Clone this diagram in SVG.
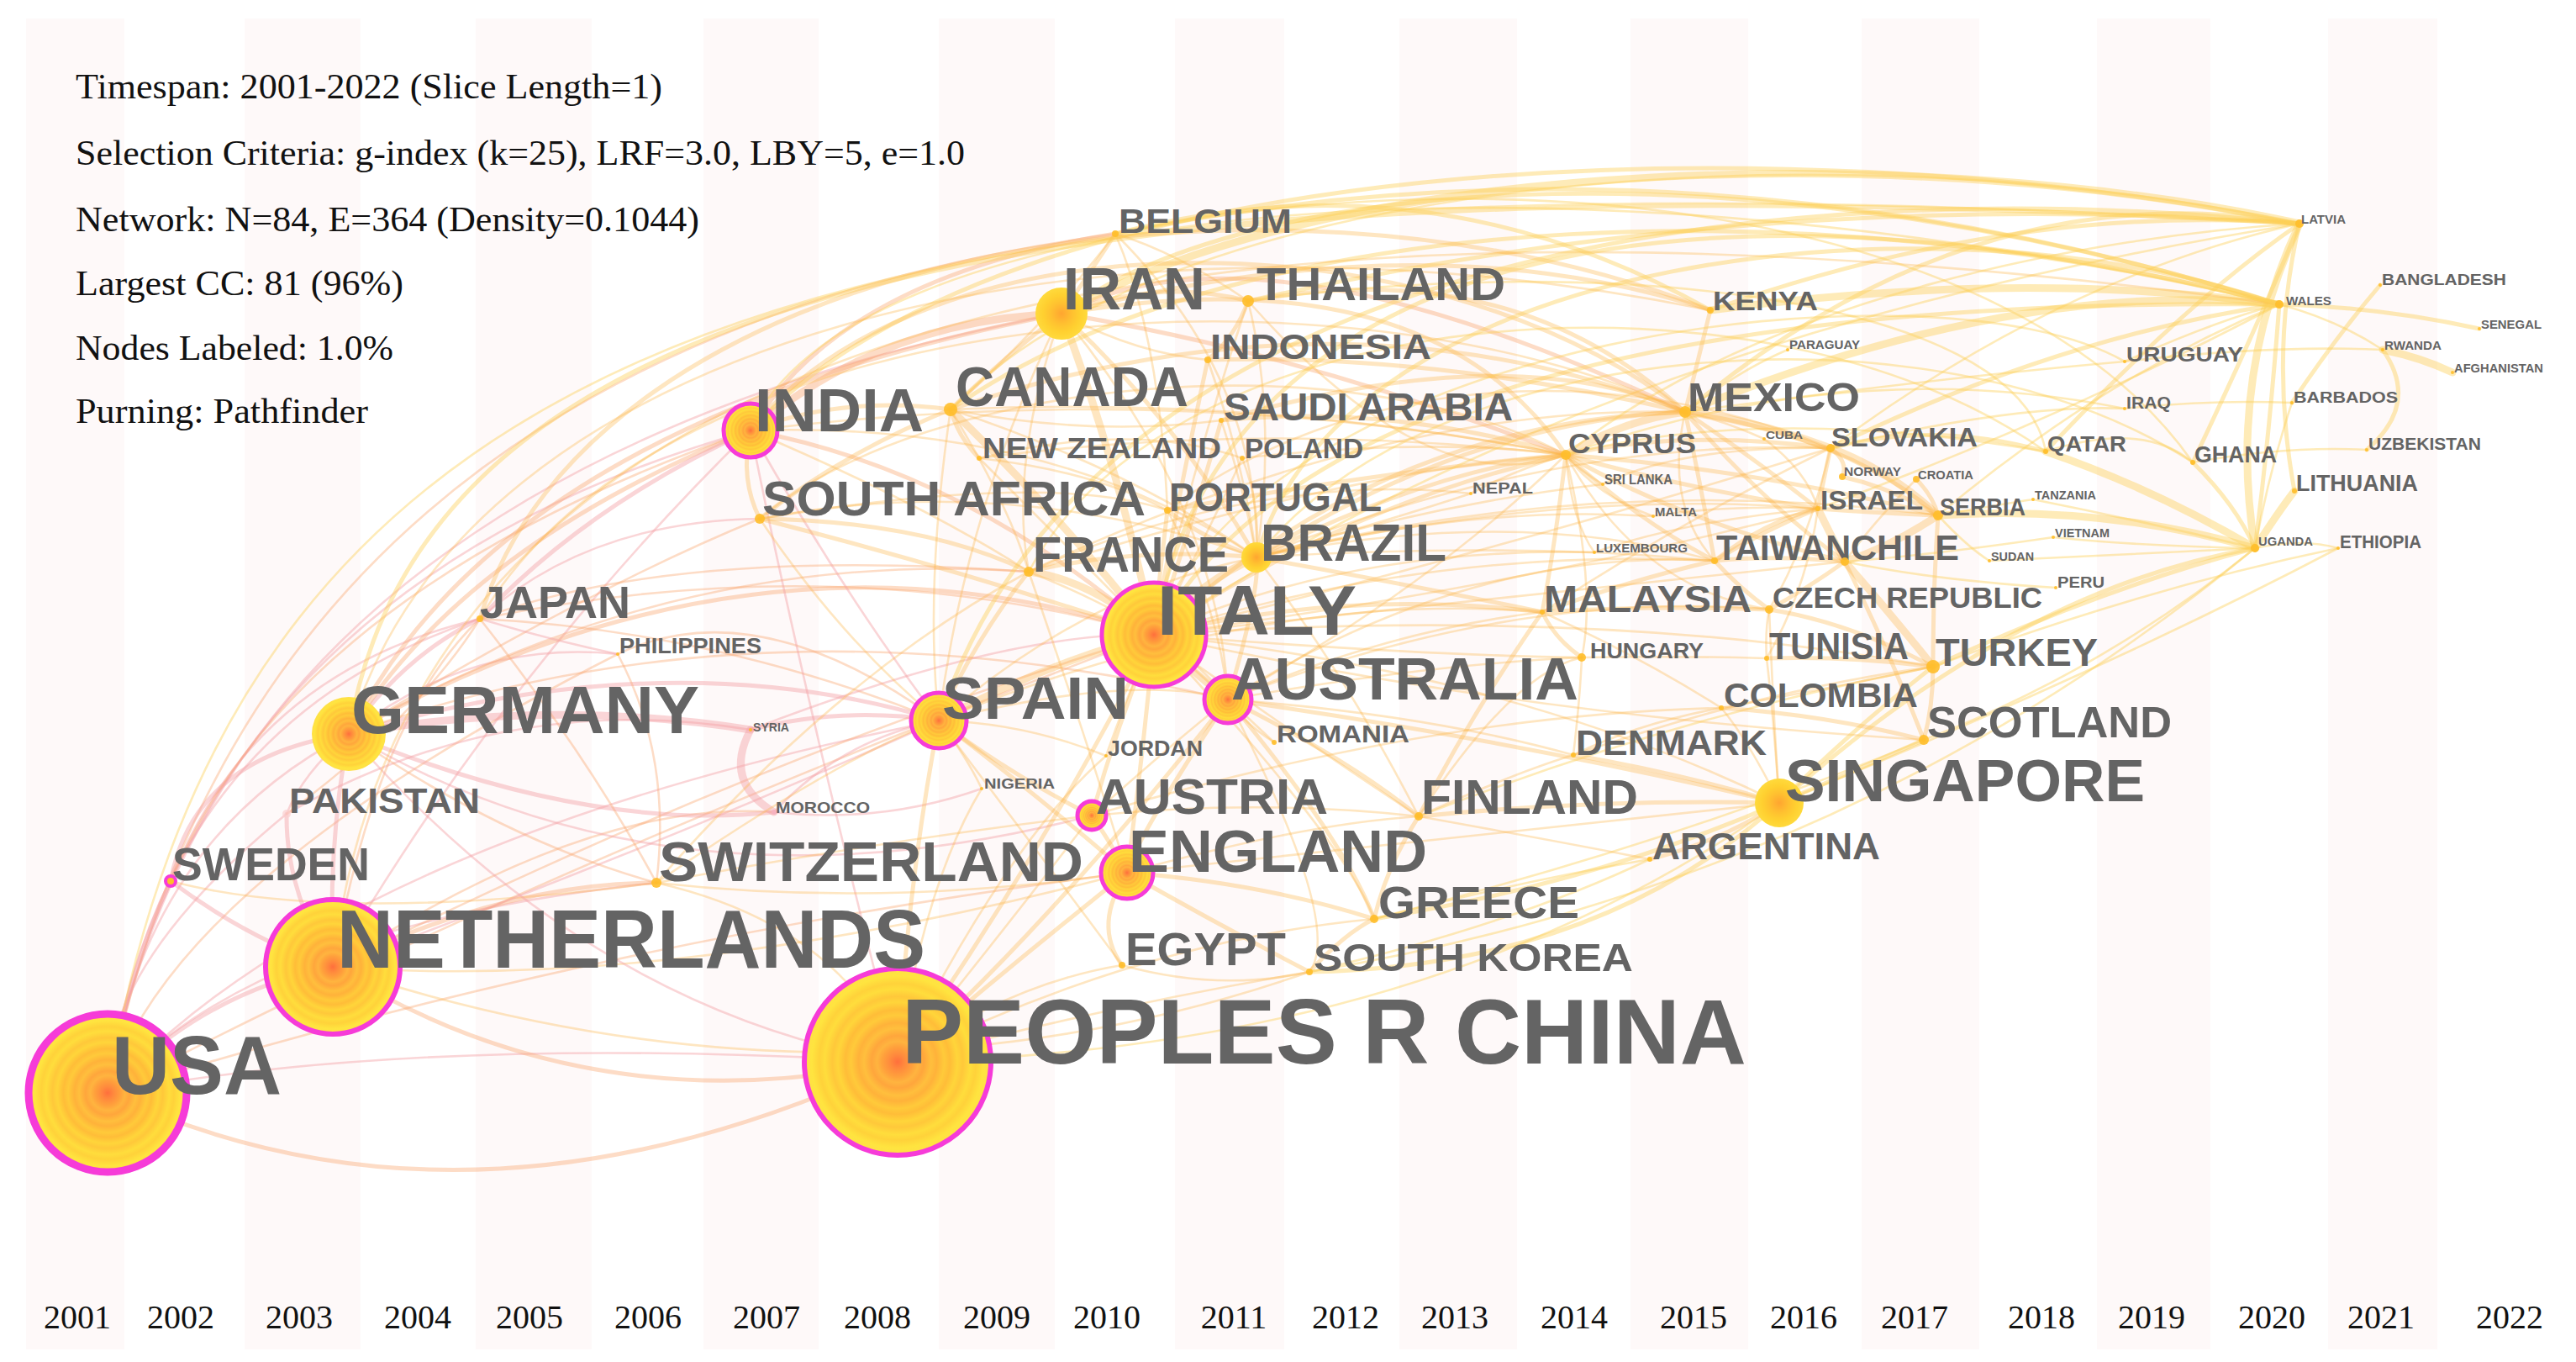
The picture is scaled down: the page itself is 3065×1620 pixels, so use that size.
<svg xmlns="http://www.w3.org/2000/svg" width="3065" height="1620" viewBox="0 0 3065 1620">
<style>
.e{fill:none;stroke-linecap:round}
.k{stroke:#f4a2a6;stroke-opacity:.45}
.s{stroke:#f9a870;stroke-opacity:.4}
.o{stroke:#fcb64a;stroke-opacity:.34}
.y{stroke:#fdd055;stroke-opacity:.42}
.w1{stroke-width:2.6}
.w2{stroke-width:5}
.w3{stroke-width:9}
.l{font-family:"Liberation Sans",Arial,sans-serif;font-weight:bold;fill:#646464}
.hd{font-family:"Liberation Serif","Times New Roman",serif;fill:#111;font-size:42px}
.yr{font-family:"Liberation Serif","Times New Roman",serif;fill:#111;font-size:40px;text-anchor:middle}
.dot{fill:#ffbe2a;fill-opacity:.9}
.big{fill:url(#ring)}
.mid{fill:url(#ring2)}
.mag{stroke:#f63bd8}
.sp{fill:#fef9f9}
</style>
<defs>
<radialGradient id="ring" cx="50%" cy="50%" r="50%">
<stop offset="0" stop-color="#ff6f3c"/>
<stop offset="0.08" stop-color="#ff8a3d"/>
<stop offset="0.16" stop-color="#ffa03c"/>
<stop offset="0.22" stop-color="#ffb43f"/>
<stop offset="0.28" stop-color="#ffa63c"/>
<stop offset="0.36" stop-color="#ffbf3d"/>
<stop offset="0.42" stop-color="#ffb23a"/>
<stop offset="0.5" stop-color="#ffca3a"/>
<stop offset="0.56" stop-color="#ffbd38"/>
<stop offset="0.64" stop-color="#ffd53a"/>
<stop offset="0.7" stop-color="#ffc83a"/>
<stop offset="0.78" stop-color="#ffdd3c"/>
<stop offset="0.84" stop-color="#ffd23a"/>
<stop offset="0.92" stop-color="#ffe43f"/>
<stop offset="1" stop-color="#ffe047"/>
</radialGradient>
<radialGradient id="ring2" cx="50%" cy="50%" r="50%">
<stop offset="0" stop-color="#ffa530"/>
<stop offset="0.4" stop-color="#ffc030"/>
<stop offset="0.7" stop-color="#ffd030"/>
<stop offset="1" stop-color="#ffda3c"/>
</radialGradient>
</defs>
<rect x="0" y="0" width="3065" height="1620" fill="#ffffff"/>
<g id="stripes">
<rect class="sp" x="31" y="22" width="117" height="1583"/>
<rect class="sp" x="291" y="22" width="138" height="1583"/>
<rect class="sp" x="566" y="22" width="138" height="1583"/>
<rect class="sp" x="837" y="22" width="137" height="1583"/>
<rect class="sp" x="1117" y="22" width="138" height="1583"/>
<rect class="sp" x="1398" y="22" width="130" height="1583"/>
<rect class="sp" x="1665" y="22" width="140" height="1583"/>
<rect class="sp" x="1940" y="22" width="140" height="1583"/>
<rect class="sp" x="2215" y="22" width="140" height="1583"/>
<rect class="sp" x="2495" y="22" width="135" height="1583"/>
<rect class="sp" x="2770" y="22" width="130" height="1583"/>
</g>
<g id="header">
<text class="hd" x="90" y="117" textLength="698" lengthAdjust="spacingAndGlyphs">Timespan: 2001-2022 (Slice Length=1)</text>
<text class="hd" x="90" y="196" textLength="1058" lengthAdjust="spacingAndGlyphs">Selection Criteria: g-index (k=25), LRF=3.0, LBY=5, e=1.0</text>
<text class="hd" x="90" y="275" textLength="742" lengthAdjust="spacingAndGlyphs">Network: N=84, E=364 (Density=0.1044)</text>
<text class="hd" x="90" y="351" textLength="390" lengthAdjust="spacingAndGlyphs">Largest CC: 81 (96%)</text>
<text class="hd" x="90" y="428" textLength="378" lengthAdjust="spacingAndGlyphs">Nodes Labeled: 1.0%</text>
<text class="hd" x="90" y="503" textLength="348" lengthAdjust="spacingAndGlyphs">Purning: Pathfinder</text>
</g>
<g id="years">
<text class="yr" x="92" y="1580">2001</text>
<text class="yr" x="215" y="1580">2002</text>
<text class="yr" x="356" y="1580">2003</text>
<text class="yr" x="497" y="1580">2004</text>
<text class="yr" x="630" y="1580">2005</text>
<text class="yr" x="771" y="1580">2006</text>
<text class="yr" x="912" y="1580">2007</text>
<text class="yr" x="1044" y="1580">2008</text>
<text class="yr" x="1186" y="1580">2009</text>
<text class="yr" x="1317" y="1580">2010</text>
<text class="yr" x="1468" y="1580">2011</text>
<text class="yr" x="1601" y="1580">2012</text>
<text class="yr" x="1731" y="1580">2013</text>
<text class="yr" x="1873" y="1580">2014</text>
<text class="yr" x="2015" y="1580">2015</text>
<text class="yr" x="2146" y="1580">2016</text>
<text class="yr" x="2278" y="1580">2017</text>
<text class="yr" x="2429" y="1580">2018</text>
<text class="yr" x="2560" y="1580">2019</text>
<text class="yr" x="2703" y="1580">2020</text>
<text class="yr" x="2833" y="1580">2021</text>
<text class="yr" x="2986" y="1580">2022</text>
</g>
<g id="edges" class="e">
<path class="k w1" d="M128,1300 Q170,1000 415,873"/>
<path class="k w1" d="M128,1300 Q190,860 571,736"/>
<path class="k w1" d="M128,1300 Q230,700 893,512"/>
<path class="k w1" d="M128,1300 Q260,560 1263,373"/>
<path class="s w1" d="M128,1300 Q300,420 1327,278"/>
<path class="k w2" d="M128,1300 Q150,1160 203,1048"/>
<path class="k w2" d="M128,1300 Q240,1180 396,1150"/>
<path class="k w1" d="M128,1300 Q300,1100 781,1050"/>
<path class="k w1" d="M128,1300 Q400,1000 1117,857"/>
<path class="s w1" d="M128,1300 Q600,1050 1373,755"/>
<path class="s w2" d="M128,1300 Q560,1500 1068,1263"/>
<path class="k w1" d="M128,1300 Q500,1230 1068,1263"/>
<path class="s w1" d="M128,1300 Q700,1120 1341,1038"/>
<path class="k w1" d="M128,1300 Q120,1150 341,968"/>
<path class="s w1" d="M128,1300 Q200,1050 735,778"/>
<path class="k w2" d="M203,1048 Q230,900 415,873"/>
<path class="k w1" d="M203,1048 Q300,800 571,736"/>
<path class="o w1" d="M203,1048 Q400,1100 781,1050"/>
<path class="k w2" d="M203,1048 Q300,1120 396,1150"/>
<path class="s w1" d="M203,1048 Q350,700 893,512"/>
<path class="k w1" d="M341,968 Q360,920 415,873"/>
<path class="k w2" d="M341,968 Q340,1060 396,1150"/>
<path class="k w1" d="M341,968 Q600,820 893,868"/>
<path class="s w1" d="M341,968 Q500,850 571,736"/>
<path class="k w2" d="M396,1150 Q390,1000 415,873"/>
<path class="s w2" d="M396,1150 Q600,1050 781,1050"/>
<path class="s w2" d="M396,1150 Q700,1340 1068,1263"/>
<path class="k w1" d="M396,1150 Q800,1000 1117,857"/>
<path class="s w1" d="M396,1150 Q900,900 1373,755"/>
<path class="k w1" d="M396,1150 Q600,800 893,512"/>
<path class="o w1" d="M396,1150 Q800,1180 1341,1038"/>
<path class="o w1" d="M396,1150 Q1000,1350 1558,1156"/>
<path class="s w1" d="M396,1150 Q700,950 921,966"/>
<path class="s w1" d="M396,1150 Q450,850 571,736"/>
<path class="k w2" d="M415,873 Q480,780 571,736"/>
<path class="k w1" d="M415,873 Q560,760 735,778"/>
<path class="k w3" d="M415,873 Q650,830 893,868"/>
<path class="k w2" d="M415,873 Q700,990 921,966"/>
<path class="k w2" d="M415,873 Q800,760 1117,857"/>
<path class="s w2" d="M415,873 Q900,600 1373,755"/>
<path class="s w2" d="M415,873 Q550,650 893,512"/>
<path class="s w2" d="M415,873 Q600,500 1263,373"/>
<path class="s w1" d="M415,873 Q600,1000 781,1050"/>
<path class="k w1" d="M415,873 Q800,1100 1299,970"/>
<path class="k w1" d="M415,873 Q700,1200 1068,1263"/>
<path class="s w1" d="M415,873 Q700,700 904,617"/>
<path class="s w1" d="M415,873 Q800,650 1224,680"/>
<path class="s w1" d="M415,873 Q900,700 1461,832"/>
<path class="k w2" d="M571,736 Q700,600 893,512"/>
<path class="s w1" d="M571,736 Q800,650 1224,680"/>
<path class="k w1" d="M571,736 Q650,760 735,778"/>
<path class="k w1" d="M571,736 Q700,620 904,617"/>
<path class="s w1" d="M571,736 Q850,750 1117,857"/>
<path class="s w1" d="M571,736 Q700,900 781,1050"/>
<path class="s w1" d="M571,736 Q1000,650 1373,755"/>
<path class="k w3" d="M893,868 Q860,930 921,966"/>
<path class="k w2" d="M893,868 Q1000,840 1117,857"/>
<path class="k w1" d="M893,868 Q1200,750 1373,755"/>
<path class="k w1" d="M921,966 Q1050,980 1168,938"/>
<path class="k w1" d="M921,966 Q1000,880 1117,857"/>
<path class="s w1" d="M735,778 Q900,700 1117,857"/>
<path class="s w1" d="M735,778 Q800,900 781,1050"/>
<path class="s w3" d="M893,512 Q1050,380 1263,373"/>
<path class="o w2" d="M893,512 Q1000,470 1131,487"/>
<path class="o w2" d="M893,512 Q880,570 904,617"/>
<path class="s w2" d="M893,512 Q1150,560 1373,755"/>
<path class="k w1" d="M893,512 Q1000,700 1117,857"/>
<path class="k w1" d="M893,512 Q950,800 1068,1263"/>
<path class="o w1" d="M893,512 Q1100,600 1224,680"/>
<path class="o w1" d="M893,512 Q1250,500 1495,663"/>
<path class="s w2" d="M893,512 Q1000,330 1327,278"/>
<path class="o w1" d="M893,512 Q1400,450 1863,541"/>
<path class="o w2" d="M1263,373 Q1300,320 1327,278"/>
<path class="o w2" d="M1263,373 Q1380,330 1485,358"/>
<path class="o w1" d="M1263,373 Q1350,420 1437,428"/>
<path class="o w2" d="M1263,373 Q1200,420 1131,487"/>
<path class="o w3" d="M1263,373 Q1330,550 1373,755"/>
<path class="o w2" d="M1263,373 Q1400,500 1495,663"/>
<path class="s w2" d="M1263,373 Q1500,250 2005,490"/>
<path class="o w2" d="M1263,373 Q1700,260 2035,369"/>
<path class="o w1" d="M1263,373 Q1200,550 1224,680"/>
<path class="o w1" d="M1263,373 Q1150,600 1117,857"/>
<path class="o w1" d="M1263,373 Q1450,600 1461,832"/>
<path class="s w2" d="M1263,373 Q1550,420 1863,541"/>
<path class="o w1" d="M1327,278 Q1400,300 1485,358"/>
<path class="o w1" d="M1327,278 Q1250,380 1131,487"/>
<path class="o w1" d="M1327,278 Q1380,400 1389,607"/>
<path class="y w2" d="M1327,278 Q1700,180 2035,369"/>
<path class="o w1" d="M1327,278 Q1500,450 1495,663"/>
<path class="o w2" d="M1485,358 Q1470,400 1437,428"/>
<path class="o w1" d="M1485,358 Q1520,500 1495,663"/>
<path class="o w2" d="M1485,358 Q1800,300 2005,490"/>
<path class="o w1" d="M1485,358 Q1700,600 1863,541"/>
<path class="o w1" d="M1485,358 Q1420,550 1373,755"/>
<path class="o w2" d="M1131,487 Q1140,520 1165,545"/>
<path class="o w2" d="M1131,487 Q1000,540 904,617"/>
<path class="o w3" d="M1131,487 Q1250,600 1373,755"/>
<path class="o w1" d="M1131,487 Q1200,600 1224,680"/>
<path class="o w1" d="M1131,487 Q1300,520 1453,500"/>
<path class="o w1" d="M1131,487 Q1350,560 1495,663"/>
<path class="o w1" d="M1131,487 Q1100,700 1117,857"/>
<path class="o w1" d="M1131,487 Q1500,470 1863,541"/>
<path class="o w1" d="M1165,545 Q1300,560 1389,607"/>
<path class="o w1" d="M1165,545 Q1300,680 1373,755"/>
<path class="o w1" d="M1165,545 Q1350,500 1478,545"/>
<path class="o w1" d="M1165,545 Q1500,500 1863,541"/>
<path class="o w2" d="M904,617 Q1100,620 1224,680"/>
<path class="o w2" d="M904,617 Q1150,680 1373,755"/>
<path class="o w1" d="M904,617 Q1000,760 1117,857"/>
<path class="o w1" d="M904,617 Q1250,560 1389,607"/>
<path class="o w1" d="M904,617 Q1200,560 1495,663"/>
<path class="o w3" d="M1224,680 Q1300,690 1373,755"/>
<path class="o w2" d="M1224,680 Q1160,760 1117,857"/>
<path class="o w2" d="M1224,680 Q1350,650 1495,663"/>
<path class="o w1" d="M1224,680 Q1300,900 1341,1038"/>
<path class="o w1" d="M1224,680 Q1400,750 1461,832"/>
<path class="o w1" d="M1224,680 Q1600,560 1863,541"/>
<path class="o w1" d="M1224,680 Q1650,480 2005,490"/>
<path class="o w1" d="M1224,680 Q1500,560 1750,587"/>
<path class="o w2" d="M1389,607 Q1430,640 1495,663"/>
<path class="o w2" d="M1389,607 Q1380,680 1373,755"/>
<path class="o w1" d="M1389,607 Q1450,720 1461,832"/>
<path class="o w2" d="M1389,607 Q1650,560 1863,541"/>
<path class="o w2" d="M1453,500 Q1420,620 1373,755"/>
<path class="o w1" d="M1478,545 Q1430,650 1373,755"/>
<path class="o w1" d="M1453,500 Q1480,580 1495,663"/>
<path class="o w1" d="M1478,545 Q1500,600 1495,663"/>
<path class="o w2" d="M1453,500 Q1650,480 1863,541"/>
<path class="o w1" d="M1478,545 Q1700,520 1863,541"/>
<path class="o w2" d="M1437,428 Q1400,600 1373,755"/>
<path class="o w1" d="M1437,428 Q1480,550 1495,663"/>
<path class="o w2" d="M1437,428 Q1700,420 2005,490"/>
<path class="o w3" d="M1373,755 Q1430,690 1495,663"/>
<path class="o w3" d="M1373,755 Q1420,800 1461,832"/>
<path class="o w3" d="M1373,755 Q1240,790 1117,857"/>
<path class="o w2" d="M1373,755 Q1330,860 1299,970"/>
<path class="o w2" d="M1373,755 Q1360,900 1341,1038"/>
<path class="o w2" d="M1373,755 Q1250,1000 1068,1263"/>
<path class="o w1" d="M1373,755 Q1450,820 1516,883"/>
<path class="o w1" d="M1373,755 Q1340,830 1316,899"/>
<path class="o w2" d="M1373,755 Q1600,700 1835,728"/>
<path class="o w2" d="M1373,755 Q1600,600 1863,541"/>
<path class="o w2" d="M1373,755 Q1650,500 2005,490"/>
<path class="o w1" d="M1373,755 Q1700,650 2040,667"/>
<path class="o w1" d="M1373,755 Q1800,800 2117,955"/>
<path class="o w1" d="M1373,755 Q1550,880 1688,971"/>
<path class="o w1" d="M1373,755 Q1600,1000 1635,1093"/>
<path class="o w1" d="M1373,755 Q1800,650 2178,533"/>
<path class="o w1" d="M1373,755 Q1800,700 2163,605"/>
<path class="o w1" d="M1373,755 Q1900,720 2300,793"/>
<path class="o w1" d="M1373,755 Q1800,850 2289,880"/>
<path class="o w1" d="M1373,755 Q1700,720 2195,668"/>
<path class="o w1" d="M1373,755 Q1700,780 1882,782"/>
<path class="o w1" d="M1373,755 Q1600,650 1897,657"/>
<path class="y w2" d="M1373,755 Q1600,350 2712,362"/>
<path class="y w1" d="M1373,755 Q1900,400 2736,266"/>
<path class="o w2" d="M1461,832 Q1600,900 1688,971"/>
<path class="o w2" d="M1461,832 Q1600,1000 1635,1093"/>
<path class="o w2" d="M1461,832 Q1800,880 2117,955"/>
<path class="o w1" d="M1461,832 Q1700,790 1882,782"/>
<path class="o w1" d="M1461,832 Q1480,860 1516,883"/>
<path class="o w2" d="M1461,832 Q1350,1000 1341,1038"/>
<path class="o w2" d="M1461,832 Q1250,1100 1068,1263"/>
<path class="o w2" d="M1461,832 Q1500,700 1495,663"/>
<path class="o w1" d="M1461,832 Q1700,700 1863,541"/>
<path class="o w1" d="M1461,832 Q1650,750 1835,728"/>
<path class="o w1" d="M1461,832 Q1700,850 1872,898"/>
<path class="o w1" d="M1461,832 Q1800,700 2105,725"/>
<path class="o w1" d="M1461,832 Q1600,1100 1558,1156"/>
<path class="o w1" d="M1461,832 Q1750,650 2040,667"/>
<path class="o w1" d="M1495,663 Q1650,620 1750,587"/>
<path class="o w2" d="M1495,663 Q1700,560 1863,541"/>
<path class="o w2" d="M1495,663 Q1750,500 2005,490"/>
<path class="o w2" d="M1495,663 Q1700,700 1835,728"/>
<path class="o w1" d="M1495,663 Q1800,600 2040,667"/>
<path class="o w1" d="M1495,663 Q1850,520 2178,533"/>
<path class="o w1" d="M1495,663 Q1850,580 2163,605"/>
<path class="o w1" d="M1495,663 Q1900,560 2306,613"/>
<path class="o w1" d="M1495,663 Q1600,800 1688,971"/>
<path class="o w1" d="M1495,663 Q1700,650 1897,657"/>
<path class="o w1" d="M1495,663 Q1750,600 1967,614"/>
<path class="o w1" d="M1495,663 Q1700,600 1907,576"/>
<path class="o w2" d="M1117,857 Q1200,920 1299,970"/>
<path class="o w2" d="M1117,857 Q1240,950 1341,1038"/>
<path class="o w1" d="M1117,857 Q1150,900 1168,938"/>
<path class="o w1" d="M1117,857 Q1220,860 1316,899"/>
<path class="o w2" d="M1117,857 Q1080,1050 1068,1263"/>
<path class="o w1" d="M1117,857 Q1350,800 1461,832"/>
<path class="o w1" d="M1117,857 Q1300,700 1495,663"/>
<path class="o w1" d="M1117,857 Q1300,1100 1335,1148"/>
<path class="o w1" d="M1117,857 Q1500,700 1835,728"/>
<path class="o w2" d="M1299,970 Q1320,1000 1341,1038"/>
<path class="o w1" d="M1299,970 Q1200,1100 1068,1263"/>
<path class="o w1" d="M1299,970 Q1500,950 1688,971"/>
<path class="o w1" d="M1299,970 Q1400,880 1461,832"/>
<path class="o w1" d="M1299,970 Q1700,850 2048,842"/>
<path class="o w2" d="M1341,1038 Q1300,1100 1335,1148"/>
<path class="o w2" d="M1341,1038 Q1450,1100 1558,1156"/>
<path class="o w2" d="M1341,1038 Q1500,1050 1635,1093"/>
<path class="o w2" d="M1341,1038 Q1200,1150 1068,1263"/>
<path class="o w1" d="M1341,1038 Q1700,1000 2117,955"/>
<path class="o w1" d="M1341,1038 Q1550,980 1688,971"/>
<path class="o w1" d="M1068,1263 Q1200,1170 1335,1148"/>
<path class="o w1" d="M1068,1263 Q1300,1200 1558,1156"/>
<path class="o w1" d="M1068,1263 Q1350,1120 1635,1093"/>
<path class="y w1" d="M1068,1263 Q1700,1250 2117,955"/>
<path class="o w1" d="M1068,1263 Q1200,1000 1316,899"/>
<path class="o w1" d="M1068,1263 Q1100,1050 1168,938"/>
<path class="o w1" d="M781,1050 Q1000,1100 1068,1263"/>
<path class="o w1" d="M781,1050 Q1000,900 1117,857"/>
<path class="o w1" d="M781,1050 Q1050,1000 1299,970"/>
<path class="o w1" d="M781,1050 Q1050,1080 1341,1038"/>
<path class="o w1" d="M781,1050 Q1000,800 1224,680"/>
<path class="o w1" d="M1335,1148 Q1450,1180 1558,1156"/>
<path class="o w2" d="M1558,1156 Q1600,1110 1635,1093"/>
<path class="y w2" d="M1558,1156 Q1900,1150 2117,955"/>
<path class="y w1" d="M1558,1156 Q2200,1050 2683,652"/>
<path class="y w1" d="M1558,1156 Q1800,1100 1963,1022"/>
<path class="y w2" d="M1635,1093 Q1900,1050 2117,955"/>
<path class="o w2" d="M1635,1093 Q1650,1030 1688,971"/>
<path class="y w1" d="M1635,1093 Q2000,1000 2289,880"/>
<path class="y w1" d="M1635,1093 Q1800,1050 1963,1022"/>
<path class="o w2" d="M1688,971 Q1900,950 2117,955"/>
<path class="o w1" d="M1688,971 Q1800,920 1872,898"/>
<path class="o w2" d="M1688,971 Q1750,850 1835,728"/>
<path class="o w1" d="M1688,971 Q1800,800 1882,782"/>
<path class="o w1" d="M1688,971 Q1850,1000 1963,1022"/>
<path class="y w1" d="M1688,971 Q2000,850 2300,793"/>
<path class="o w2" d="M1872,898 Q2000,920 2117,955"/>
<path class="o w1" d="M1872,898 Q1880,830 1882,782"/>
<path class="o w1" d="M1872,898 Q2100,820 2300,793"/>
<path class="o w2" d="M1963,1022 Q2050,1000 2117,955"/>
<path class="y w2" d="M2117,955 Q2200,920 2289,880"/>
<path class="y w2" d="M2117,955 Q2200,870 2300,793"/>
<path class="o w1" d="M2117,955 Q2080,880 2048,842"/>
<path class="o w1" d="M2117,955 Q2110,850 2102,783"/>
<path class="y w2" d="M2117,955 Q2400,700 2683,652"/>
<path class="y w1" d="M2117,955 Q2500,800 2782,652"/>
<path class="o w1" d="M2117,955 Q2110,850 2105,725"/>
<path class="o w1" d="M1750,587 Q1800,560 1863,541"/>
<path class="o w2" d="M1835,728 Q1850,760 1882,782"/>
<path class="o w1" d="M1835,728 Q1950,780 2048,842"/>
<path class="o w1" d="M1835,728 Q2000,620 2178,533"/>
<path class="o w1" d="M1882,782 Q1900,700 1863,541"/>
<path class="o w3" d="M1863,541 Q1930,500 2005,490"/>
<path class="o w2" d="M1863,541 Q2000,510 2178,533"/>
<path class="o w2" d="M1863,541 Q2000,580 2163,605"/>
<path class="o w2" d="M1863,541 Q2100,560 2306,613"/>
<path class="o w2" d="M1863,541 Q1850,650 1835,728"/>
<path class="o w2" d="M1863,541 Q1950,620 2040,667"/>
<path class="o w1" d="M1863,541 Q1880,560 1907,576"/>
<path class="o w1" d="M1863,541 Q1900,590 1967,614"/>
<path class="o w1" d="M1863,541 Q1870,620 1897,657"/>
<path class="y w1" d="M1863,541 Q2100,480 2434,537"/>
<path class="o w2" d="M1863,541 Q2000,620 2195,668"/>
<path class="o w1" d="M1863,541 Q1950,700 2105,725"/>
<path class="o w3" d="M2005,490 Q2090,500 2178,533"/>
<path class="o w2" d="M2005,490 Q2080,540 2163,605"/>
<path class="o w2" d="M2005,490 Q2200,520 2306,613"/>
<path class="o w1" d="M2005,490 Q2050,500 2099,522"/>
<path class="o w2" d="M2005,490 Q2100,600 2195,668"/>
<path class="o w2" d="M2005,490 Q2020,430 2035,369"/>
<path class="y w1" d="M2005,490 Q2070,440 2127,416"/>
<path class="y w3" d="M2005,490 Q2400,330 2712,362"/>
<path class="y w2" d="M2005,490 Q2350,200 2736,266"/>
<path class="y w1" d="M2005,490 Q2300,450 2528,430"/>
<path class="o w1" d="M2005,490 Q1980,600 2040,667"/>
<path class="o w2" d="M2040,667 Q2100,620 2163,605"/>
<path class="o w2" d="M2040,667 Q2020,560 2005,490"/>
<path class="o w1" d="M2105,725 Q2150,650 2178,533"/>
<path class="o w1" d="M2102,783 Q2150,700 2163,605"/>
<path class="o w1" d="M1967,614 Q2050,600 2163,605"/>
<path class="o w1" d="M1907,576 Q2000,530 2178,533"/>
<path class="o w1" d="M2099,522 Q2150,560 2163,605"/>
<path class="o w1" d="M1897,657 Q2000,620 2163,605"/>
<path class="o w2" d="M2178,533 Q2200,550 2192,567"/>
<path class="o w3" d="M2178,533 Q2250,560 2306,613"/>
<path class="o w2" d="M2178,533 Q2170,570 2163,605"/>
<path class="y w2" d="M2178,533 Q2300,500 2434,537"/>
<path class="y w2" d="M2178,533 Q2450,400 2712,362"/>
<path class="y w1" d="M2178,533 Q2400,480 2528,486"/>
<path class="y w1" d="M2178,533 Q2450,330 2736,266"/>
<path class="o w2" d="M2192,567 Q2250,580 2306,613"/>
<path class="o w2" d="M2280,570 Q2300,590 2306,613"/>
<path class="o w1" d="M2280,570 Q2230,620 2195,668"/>
<path class="o w2" d="M2163,605 Q2230,610 2306,613"/>
<path class="o w3" d="M2163,605 Q2180,640 2195,668"/>
<path class="o w2" d="M2163,605 Q2100,630 2040,667"/>
<path class="y w1" d="M2163,605 Q2450,500 2712,362"/>
<path class="o w3" d="M2306,613 Q2250,650 2195,668"/>
<path class="o w2" d="M2306,613 Q2300,700 2300,793"/>
<path class="y w3" d="M2306,613 Q2500,600 2683,652"/>
<path class="y w1" d="M2306,613 Q2380,600 2419,594"/>
<path class="y w1" d="M2306,613 Q2340,650 2367,667"/>
<path class="y w1" d="M2306,613 Q2500,450 2712,362"/>
<path class="o w3" d="M2195,668 Q2250,730 2300,793"/>
<path class="o w2" d="M2195,668 Q2110,660 2040,667"/>
<path class="o w2" d="M2195,668 Q2150,700 2105,725"/>
<path class="o w2" d="M2195,668 Q2250,780 2289,880"/>
<path class="y w1" d="M2195,668 Q2300,660 2443,639"/>
<path class="y w1" d="M2195,668 Q2300,690 2446,699"/>
<path class="o w2" d="M2040,667 Q2070,700 2105,725"/>
<path class="o w2" d="M2040,667 Q1940,690 1835,728"/>
<path class="o w1" d="M2040,667 Q1960,660 1897,657"/>
<path class="o w2" d="M2105,725 Q2200,740 2300,793"/>
<path class="o w2" d="M2105,725 Q1970,720 1835,728"/>
<path class="o w1" d="M2105,725 Q2100,750 2102,783"/>
<path class="o w2" d="M2102,783 Q2200,780 2300,793"/>
<path class="o w1" d="M2102,783 Q2000,780 1882,782"/>
<path class="o w2" d="M2048,842 Q2170,850 2289,880"/>
<path class="o w1" d="M2048,842 Q2170,820 2300,793"/>
<path class="o w1" d="M2048,842 Q1950,860 1872,898"/>
<path class="o w2" d="M2300,793 Q2300,840 2289,880"/>
<path class="y w2" d="M2300,793 Q2500,700 2683,652"/>
<path class="y w1" d="M2300,793 Q2550,700 2782,652"/>
<path class="y w1" d="M2289,880 Q2500,800 2683,652"/>
<path class="y w3" d="M2434,537 Q2560,580 2683,652"/>
<path class="y w2" d="M2434,537 Q2600,360 2736,266"/>
<path class="y w1" d="M2434,537 Q2550,500 2609,550"/>
<path class="y w2" d="M2609,550 Q2660,600 2683,652"/>
<path class="y w2" d="M2609,550 Q2690,380 2736,266"/>
<path class="y w1" d="M2609,550 Q2720,530 2816,535"/>
<path class="y w1" d="M2528,430 Q2700,410 2835,416"/>
<path class="y w1" d="M2528,430 Q2640,380 2712,362"/>
<path class="y w1" d="M2528,486 Q2630,475 2727,479"/>
<path class="y w3" d="M2736,266 Q2650,450 2683,652"/>
<path class="y w2" d="M2712,362 Q2700,520 2683,652"/>
<path class="y w2" d="M2736,266 Q2700,420 2730,584"/>
<path class="y w2" d="M2712,362 Q2830,365 2950,391"/>
<path class="y w1" d="M2712,362 Q2780,380 2835,416"/>
<path class="y w3" d="M2835,416 Q2880,425 2918,443"/>
<path class="y w2" d="M2835,416 Q2880,480 2816,535"/>
<path class="y w2" d="M2832,339 Q2780,400 2727,479"/>
<path class="y w3" d="M2683,652 Q2710,610 2730,584"/>
<path class="y w1" d="M2683,652 Q2740,640 2782,652"/>
<path class="y w1" d="M2727,479 Q2700,560 2683,652"/>
<path class="y w1" d="M2419,594 Q2550,620 2683,652"/>
<path class="y w1" d="M2443,639 Q2550,650 2683,652"/>
<path class="y w1" d="M2367,667 Q2500,660 2683,652"/>
<path class="y w2" d="M415,873 C500,350 1200,180 2736,266"/>
<path class="y w2" d="M893,512 C1200,180 2100,140 2736,266"/>
<path class="y w3" d="M1263,373 C1600,180 2300,170 2736,266"/>
<path class="y w2" d="M1327,278 Q2000,140 2712,362"/>
<path class="y w2" d="M1485,358 Q2100,220 2736,266"/>
<path class="y w3" d="M2035,369 Q2400,320 2712,362"/>
<path class="y w2" d="M2035,369 Q2400,240 2736,266"/>
<path class="y w2" d="M1131,487 C1500,230 2200,230 2712,362"/>
<path class="y w1" d="M128,1300 C280,380 1000,160 2736,266"/>
<path class="o w1" d="M396,1150 C480,420 1300,170 2712,362"/>
<path class="o w2" d="M571,736 C700,300 1500,160 2035,369"/>
<path class="o w2" d="M893,512 C1100,250 1700,250 2005,490"/>
<path class="o w2" d="M1263,373 Q1700,300 1863,541"/>
<path class="o w2" d="M1131,487 Q1600,330 2005,490"/>
<path class="o w2" d="M1453,500 Q1800,400 2005,490"/>
<path class="y w1" d="M1373,755 C1500,400 2300,300 2528,430"/>
<path class="y w1" d="M1495,663 C1700,400 2300,350 2609,550"/>
<path class="y w1" d="M1863,541 Q2200,420 2528,486"/>
<path class="y w1" d="M1224,680 C1400,350 2100,300 2434,537"/>
<path class="y w2" d="M1117,857 C1300,300 2100,200 2736,266"/>
<path class="y w2" d="M1373,755 C1450,300 2000,180 2712,362"/>
<path class="y w2" d="M1495,663 C1600,300 2300,220 2712,362"/>
<path class="y w1" d="M893,512 C1000,250 1800,150 2712,362"/>
<path class="y w2" d="M1263,373 C1500,200 2100,170 2712,362"/>
<path class="y w1" d="M1131,487 C1400,200 2200,150 2736,266"/>
<path class="o w1" d="M415,873 C550,400 1300,220 2035,369"/>
<path class="o w1" d="M571,736 C800,350 1600,300 2005,490"/>
<path class="y w1" d="M1327,278 C1800,180 2400,250 2609,550"/>
<path class="y w1" d="M1485,358 C1900,300 2400,350 2434,537"/>
<path class="y w1" d="M1863,541 C2100,350 2500,280 2736,266"/>
<path class="o w1" d="M1389,607 C1600,450 1900,420 2178,533"/>
<path class="o w1" d="M904,617 C1100,450 1600,400 1863,541"/>
</g>
<g id="n-china"><circle class="big mag" cx="1068" cy="1263" r="111" stroke-width="6"/><text class="l" x="1073" y="1265" font-size="110" textLength="1005" lengthAdjust="spacingAndGlyphs">PEOPLES R CHINA</text></g>
<g id="n-usa"><circle class="big mag" cx="128" cy="1300" r="94" stroke-width="9"/><text class="l" x="133" y="1301" font-size="98" textLength="202" lengthAdjust="spacingAndGlyphs">USA</text></g>
<g id="n-netherlands"><circle class="big mag" cx="396" cy="1150" r="80" stroke-width="6"/><text class="l" x="401" y="1151" font-size="99" textLength="700" lengthAdjust="spacingAndGlyphs">NETHERLANDS</text></g>
<g id="n-germany"><circle class="big" cx="415" cy="873" r="44"/><text class="l" x="418" y="872" font-size="80" textLength="414" lengthAdjust="spacingAndGlyphs">GERMANY</text></g>
<g id="n-italy"><circle class="big mag" cx="1373" cy="755" r="62" stroke-width="5"/><text class="l" x="1377" y="755" font-size="83" textLength="237" lengthAdjust="spacingAndGlyphs">ITALY</text></g>
<g id="n-spain"><circle class="big mag" cx="1117" cy="857" r="33" stroke-width="5"/><text class="l" x="1121" y="855" font-size="71" textLength="222" lengthAdjust="spacingAndGlyphs">SPAIN</text></g>
<g id="n-australia"><circle class="big mag" cx="1461" cy="832" r="28" stroke-width="5"/><text class="l" x="1465" y="832" font-size="70" textLength="413" lengthAdjust="spacingAndGlyphs">AUSTRALIA</text></g>
<g id="n-austria"><circle class="big mag" cx="1299" cy="970" r="17" stroke-width="5"/><text class="l" x="1304" y="968" font-size="60" textLength="276" lengthAdjust="spacingAndGlyphs">AUSTRIA</text></g>
<g id="n-england"><circle class="big mag" cx="1341" cy="1038" r="31" stroke-width="5"/><text class="l" x="1343" y="1037" font-size="70" textLength="355" lengthAdjust="spacingAndGlyphs">ENGLAND</text></g>
<g id="n-india"><circle class="big mag" cx="893" cy="512" r="32" stroke-width="5"/><text class="l" x="898" y="513" font-size="72" textLength="201" lengthAdjust="spacingAndGlyphs">INDIA</text></g>
<g id="n-iran"><circle class="mid" cx="1263" cy="373" r="31"/><text class="l" x="1265" y="368" font-size="70" textLength="169" lengthAdjust="spacingAndGlyphs">IRAN</text></g>
<g id="n-singapore"><circle class="mid" cx="2117" cy="955" r="29"/><text class="l" x="2124" y="953" font-size="70" textLength="428" lengthAdjust="spacingAndGlyphs">SINGAPORE</text></g>
<g id="n-brazil"><circle class="mid" cx="1495" cy="663" r="18"/><text class="l" x="1500" y="667" font-size="63" textLength="221" lengthAdjust="spacingAndGlyphs">BRAZIL</text></g>
<g id="n-sweden"><circle cx="203" cy="1048" r="6" fill="#ffbe2a" stroke="#f63bd8" stroke-width="4"/><text class="l" x="205" y="1047" font-size="55" textLength="235" lengthAdjust="spacingAndGlyphs">SWEDEN</text></g>
<g id="n-switzerland"><circle class="dot" cx="781" cy="1050" r="6"/><text class="l" x="784" y="1048" font-size="66" textLength="505" lengthAdjust="spacingAndGlyphs">SWITZERLAND</text></g>
<g id="n-finland"><circle class="dot" cx="1688" cy="971" r="5"/><text class="l" x="1691" y="968" font-size="58" textLength="258" lengthAdjust="spacingAndGlyphs">FINLAND</text></g>
<g id="n-canada"><circle class="dot" cx="1131" cy="487" r="8"/><text class="l" x="1137" y="483" font-size="67" textLength="277" lengthAdjust="spacingAndGlyphs">CANADA</text></g>
<g id="n-thailand"><circle class="dot" cx="1485" cy="358" r="7"/><text class="l" x="1495" y="357" font-size="56" textLength="296" lengthAdjust="spacingAndGlyphs">THAILAND</text></g>
<g id="n-belgium"><circle class="dot" cx="1327" cy="278" r="4"/><text class="l" x="1331" y="277" font-size="41" textLength="206" lengthAdjust="spacingAndGlyphs">BELGIUM</text></g>
<g id="n-indonesia"><circle class="dot" cx="1437" cy="428" r="4"/><text class="l" x="1440" y="427" font-size="42" textLength="263" lengthAdjust="spacingAndGlyphs">INDONESIA</text></g>
<g id="n-saudi-arabia"><circle class="dot" cx="1453" cy="500" r="3"/><text class="l" x="1456" y="500" font-size="46" textLength="344" lengthAdjust="spacingAndGlyphs">SAUDI ARABIA</text></g>
<g id="n-new-zealand"><circle class="dot" cx="1165" cy="545" r="3"/><text class="l" x="1169" y="545" font-size="35" textLength="284" lengthAdjust="spacingAndGlyphs">NEW ZEALAND</text></g>
<g id="n-poland"><circle class="dot" cx="1478" cy="545" r="3"/><text class="l" x="1481" y="545" font-size="34" textLength="141" lengthAdjust="spacingAndGlyphs">POLAND</text></g>
<g id="n-south-africa"><circle class="dot" cx="904" cy="617" r="6"/><text class="l" x="907" y="613" font-size="57" textLength="456" lengthAdjust="spacingAndGlyphs">SOUTH AFRICA</text></g>
<g id="n-portugal"><circle class="dot" cx="1389" cy="607" r="4"/><text class="l" x="1391" y="608" font-size="49" textLength="253" lengthAdjust="spacingAndGlyphs">PORTUGAL</text></g>
<g id="n-nepal"><circle class="dot" cx="1750" cy="587" r="2"/><text class="l" x="1752" y="587" font-size="19" textLength="72" lengthAdjust="spacingAndGlyphs">NEPAL</text></g>
<g id="n-france"><circle class="dot" cx="1224" cy="680" r="6"/><text class="l" x="1229" y="680" font-size="59" textLength="233" lengthAdjust="spacingAndGlyphs">FRANCE</text></g>
<g id="n-japan"><circle class="dot" cx="571" cy="736" r="4"/><text class="l" x="571" y="735" font-size="53" textLength="179" lengthAdjust="spacingAndGlyphs">JAPAN</text></g>
<g id="n-philippines"><circle class="dot" cx="735" cy="778" r="2"/><text class="l" x="737" y="777" font-size="25" textLength="169" lengthAdjust="spacingAndGlyphs">PHILIPPINES</text></g>
<g id="n-syria"><circle class="dot" cx="893" cy="868" r="2"/><text class="l" x="896" y="870" font-size="15" textLength="43" lengthAdjust="spacingAndGlyphs">SYRIA</text></g>
<g id="n-pakistan"><circle cx="341" cy="968" r="5" fill="#fbd0d0" fill-opacity=".7"/><text class="l" x="344" y="967" font-size="43" textLength="227" lengthAdjust="spacingAndGlyphs">PAKISTAN</text></g>
<g id="n-morocco"><circle cx="921" cy="966" r="3" fill="#f6b2c0"/><text class="l" x="923" y="967" font-size="19" textLength="112" lengthAdjust="spacingAndGlyphs">MOROCCO</text></g>
<g id="n-nigeria"><circle class="dot" cx="1168" cy="938" r="2"/><text class="l" x="1171" y="938" font-size="16" textLength="84" lengthAdjust="spacingAndGlyphs">NIGERIA</text></g>
<g id="n-jordan"><circle class="dot" cx="1316" cy="899" r="2"/><text class="l" x="1318" y="899" font-size="25" textLength="113" lengthAdjust="spacingAndGlyphs">JORDAN</text></g>
<g id="n-romania"><circle class="dot" cx="1516" cy="883" r="3"/><text class="l" x="1519" y="883" font-size="30" textLength="158" lengthAdjust="spacingAndGlyphs">ROMANIA</text></g>
<g id="n-greece"><circle class="dot" cx="1635" cy="1093" r="5"/><text class="l" x="1640" y="1092" font-size="54" textLength="239" lengthAdjust="spacingAndGlyphs">GREECE</text></g>
<g id="n-egypt"><circle class="dot" cx="1335" cy="1148" r="4"/><text class="l" x="1339" y="1148" font-size="56" textLength="191" lengthAdjust="spacingAndGlyphs">EGYPT</text></g>
<g id="n-south-korea"><circle class="dot" cx="1558" cy="1156" r="4"/><text class="l" x="1563" y="1155" font-size="46" textLength="380" lengthAdjust="spacingAndGlyphs">SOUTH KOREA</text></g>
<g id="n-denmark"><circle class="dot" cx="1872" cy="898" r="3"/><text class="l" x="1875" y="898" font-size="42" textLength="227" lengthAdjust="spacingAndGlyphs">DENMARK</text></g>
<g id="n-argentina"><circle class="dot" cx="1963" cy="1022" r="3"/><text class="l" x="1966" y="1022" font-size="44" textLength="271" lengthAdjust="spacingAndGlyphs">ARGENTINA</text></g>
<g id="n-hungary"><circle class="dot" cx="1882" cy="782" r="5"/><text class="l" x="1892" y="783" font-size="26" textLength="135" lengthAdjust="spacingAndGlyphs">HUNGARY</text></g>
<g id="n-malaysia"><circle class="dot" cx="1835" cy="728" r="3"/><text class="l" x="1837" y="728" font-size="45" textLength="247" lengthAdjust="spacingAndGlyphs">MALAYSIA</text></g>
<g id="n-czech-republic"><circle class="dot" cx="2105" cy="725" r="5"/><text class="l" x="2109" y="723" font-size="35" textLength="321" lengthAdjust="spacingAndGlyphs">CZECH REPUBLIC</text></g>
<g id="n-tunisia"><circle class="dot" cx="2102" cy="783" r="3"/><text class="l" x="2105" y="784" font-size="44" textLength="166" lengthAdjust="spacingAndGlyphs">TUNISIA</text></g>
<g id="n-turkey"><circle class="dot" cx="2300" cy="793" r="8"/><text class="l" x="2303" y="792" font-size="47" textLength="193" lengthAdjust="spacingAndGlyphs">TURKEY</text></g>
<g id="n-colombia"><circle class="dot" cx="2048" cy="842" r="3"/><text class="l" x="2051" y="841" font-size="41" textLength="231" lengthAdjust="spacingAndGlyphs">COLOMBIA</text></g>
<g id="n-scotland"><circle class="dot" cx="2289" cy="880" r="6"/><text class="l" x="2293" y="877" font-size="51" textLength="291" lengthAdjust="spacingAndGlyphs">SCOTLAND</text></g>
<g id="n-taiwan"><circle class="dot" cx="2040" cy="667" r="4"/><text class="l" x="2042" y="666" font-size="43" textLength="160" lengthAdjust="spacingAndGlyphs">TAIWAN</text></g>
<g id="n-chile"><circle class="dot" cx="2195" cy="668" r="5"/><text class="l" x="2202" y="666" font-size="43" textLength="129" lengthAdjust="spacingAndGlyphs">CHILE</text></g>
<g id="n-luxembourg"><circle class="dot" cx="1897" cy="657" r="2"/><text class="l" x="1899" y="657" font-size="14" textLength="109" lengthAdjust="spacingAndGlyphs">LUXEMBOURG</text></g>
<g id="n-malta"><circle class="dot" cx="1967" cy="614" r="2"/><text class="l" x="1969" y="614" font-size="14" textLength="50" lengthAdjust="spacingAndGlyphs">MALTA</text></g>
<g id="n-sri-lanka"><circle class="dot" cx="1907" cy="576" r="2"/><text class="l" x="1909" y="576" font-size="16" textLength="81" lengthAdjust="spacingAndGlyphs">SRI LANKA</text></g>
<g id="n-cyprus"><circle class="dot" cx="1863" cy="541" r="6"/><text class="l" x="1866" y="539" font-size="33" textLength="152" lengthAdjust="spacingAndGlyphs">CYPRUS</text></g>
<g id="n-mexico"><circle class="dot" cx="2005" cy="490" r="7"/><text class="l" x="2008" y="489" font-size="49" textLength="205" lengthAdjust="spacingAndGlyphs">MEXICO</text></g>
<g id="n-cuba"><circle class="dot" cx="2099" cy="522" r="2"/><text class="l" x="2101" y="522" font-size="13" textLength="44" lengthAdjust="spacingAndGlyphs">CUBA</text></g>
<g id="n-slovakia"><circle class="dot" cx="2178" cy="533" r="5"/><text class="l" x="2179" y="531" font-size="31" textLength="174" lengthAdjust="spacingAndGlyphs">SLOVAKIA</text></g>
<g id="n-norway"><circle class="dot" cx="2192" cy="567" r="4"/><text class="l" x="2194" y="566" font-size="15" textLength="68" lengthAdjust="spacingAndGlyphs">NORWAY</text></g>
<g id="n-croatia"><circle class="dot" cx="2280" cy="570" r="4"/><text class="l" x="2282" y="570" font-size="15" textLength="66" lengthAdjust="spacingAndGlyphs">CROATIA</text></g>
<g id="n-israel"><circle class="dot" cx="2163" cy="605" r="3"/><text class="l" x="2166" y="606" font-size="31" textLength="122" lengthAdjust="spacingAndGlyphs">ISRAEL</text></g>
<g id="n-serbia"><circle class="dot" cx="2306" cy="613" r="6"/><text class="l" x="2308" y="613" font-size="29" textLength="102" lengthAdjust="spacingAndGlyphs">SERBIA</text></g>
<g id="n-kenya"><circle class="dot" cx="2035" cy="369" r="4"/><text class="l" x="2038" y="369" font-size="32" textLength="125" lengthAdjust="spacingAndGlyphs">KENYA</text></g>
<g id="n-paraguay"><circle class="dot" cx="2127" cy="416" r="2"/><text class="l" x="2129" y="415" font-size="14" textLength="84" lengthAdjust="spacingAndGlyphs">PARAGUAY</text></g>
<g id="n-uruguay"><circle class="dot" cx="2528" cy="430" r="2"/><text class="l" x="2530" y="430" font-size="24" textLength="139" lengthAdjust="spacingAndGlyphs">URUGUAY</text></g>
<g id="n-iraq"><circle class="dot" cx="2528" cy="486" r="2"/><text class="l" x="2530" y="486" font-size="20" textLength="53" lengthAdjust="spacingAndGlyphs">IRAQ</text></g>
<g id="n-qatar"><circle class="dot" cx="2434" cy="537" r="3"/><text class="l" x="2436" y="537" font-size="25" textLength="94" lengthAdjust="spacingAndGlyphs">QATAR</text></g>
<g id="n-ghana"><circle class="dot" cx="2609" cy="550" r="3"/><text class="l" x="2611" y="550" font-size="27" textLength="98" lengthAdjust="spacingAndGlyphs">GHANA</text></g>
<g id="n-tanzania"><circle class="dot" cx="2419" cy="594" r="2"/><text class="l" x="2421" y="594" font-size="14" textLength="73" lengthAdjust="spacingAndGlyphs">TANZANIA</text></g>
<g id="n-vietnam"><circle class="dot" cx="2443" cy="639" r="2"/><text class="l" x="2445" y="639" font-size="14" textLength="65" lengthAdjust="spacingAndGlyphs">VIETNAM</text></g>
<g id="n-sudan"><circle class="dot" cx="2367" cy="667" r="2"/><text class="l" x="2369" y="667" font-size="15" textLength="51" lengthAdjust="spacingAndGlyphs">SUDAN</text></g>
<g id="n-peru"><circle class="dot" cx="2446" cy="699" r="2"/><text class="l" x="2448" y="699" font-size="18" textLength="56" lengthAdjust="spacingAndGlyphs">PERU</text></g>
<g id="n-latvia"><circle class="dot" cx="2736" cy="266" r="5"/><text class="l" x="2738" y="266" font-size="14" textLength="53" lengthAdjust="spacingAndGlyphs">LATVIA</text></g>
<g id="n-wales"><circle class="dot" cx="2712" cy="362" r="5"/><text class="l" x="2720" y="363" font-size="14" textLength="54" lengthAdjust="spacingAndGlyphs">WALES</text></g>
<g id="n-bangladesh"><circle class="dot" cx="2832" cy="339" r="2"/><text class="l" x="2834" y="339" font-size="19" textLength="148" lengthAdjust="spacingAndGlyphs">BANGLADESH</text></g>
<g id="n-senegal"><circle class="dot" cx="2950" cy="391" r="2"/><text class="l" x="2952" y="391" font-size="14" textLength="72" lengthAdjust="spacingAndGlyphs">SENEGAL</text></g>
<g id="n-rwanda"><circle class="dot" cx="2835" cy="416" r="2"/><text class="l" x="2837" y="416" font-size="14" textLength="68" lengthAdjust="spacingAndGlyphs">RWANDA</text></g>
<g id="n-afghanistan"><circle class="dot" cx="2918" cy="443" r="2"/><text class="l" x="2920" y="443" font-size="14" textLength="106" lengthAdjust="spacingAndGlyphs">AFGHANISTAN</text></g>
<g id="n-barbados"><circle class="dot" cx="2727" cy="479" r="2"/><text class="l" x="2729" y="479" font-size="19" textLength="124" lengthAdjust="spacingAndGlyphs">BARBADOS</text></g>
<g id="n-uzbekistan"><circle class="dot" cx="2816" cy="535" r="2"/><text class="l" x="2818" y="535" font-size="20" textLength="134" lengthAdjust="spacingAndGlyphs">UZBEKISTAN</text></g>
<g id="n-lithuania"><circle class="dot" cx="2730" cy="584" r="3"/><text class="l" x="2732" y="584" font-size="27" textLength="145" lengthAdjust="spacingAndGlyphs">LITHUANIA</text></g>
<g id="n-uganda"><circle class="dot" cx="2683" cy="652" r="5"/><text class="l" x="2687" y="649" font-size="14" textLength="65" lengthAdjust="spacingAndGlyphs">UGANDA</text></g>
<g id="n-ethiopia"><circle class="dot" cx="2782" cy="652" r="2"/><text class="l" x="2784" y="652" font-size="22" textLength="97" lengthAdjust="spacingAndGlyphs">ETHIOPIA</text></g>
</svg>
